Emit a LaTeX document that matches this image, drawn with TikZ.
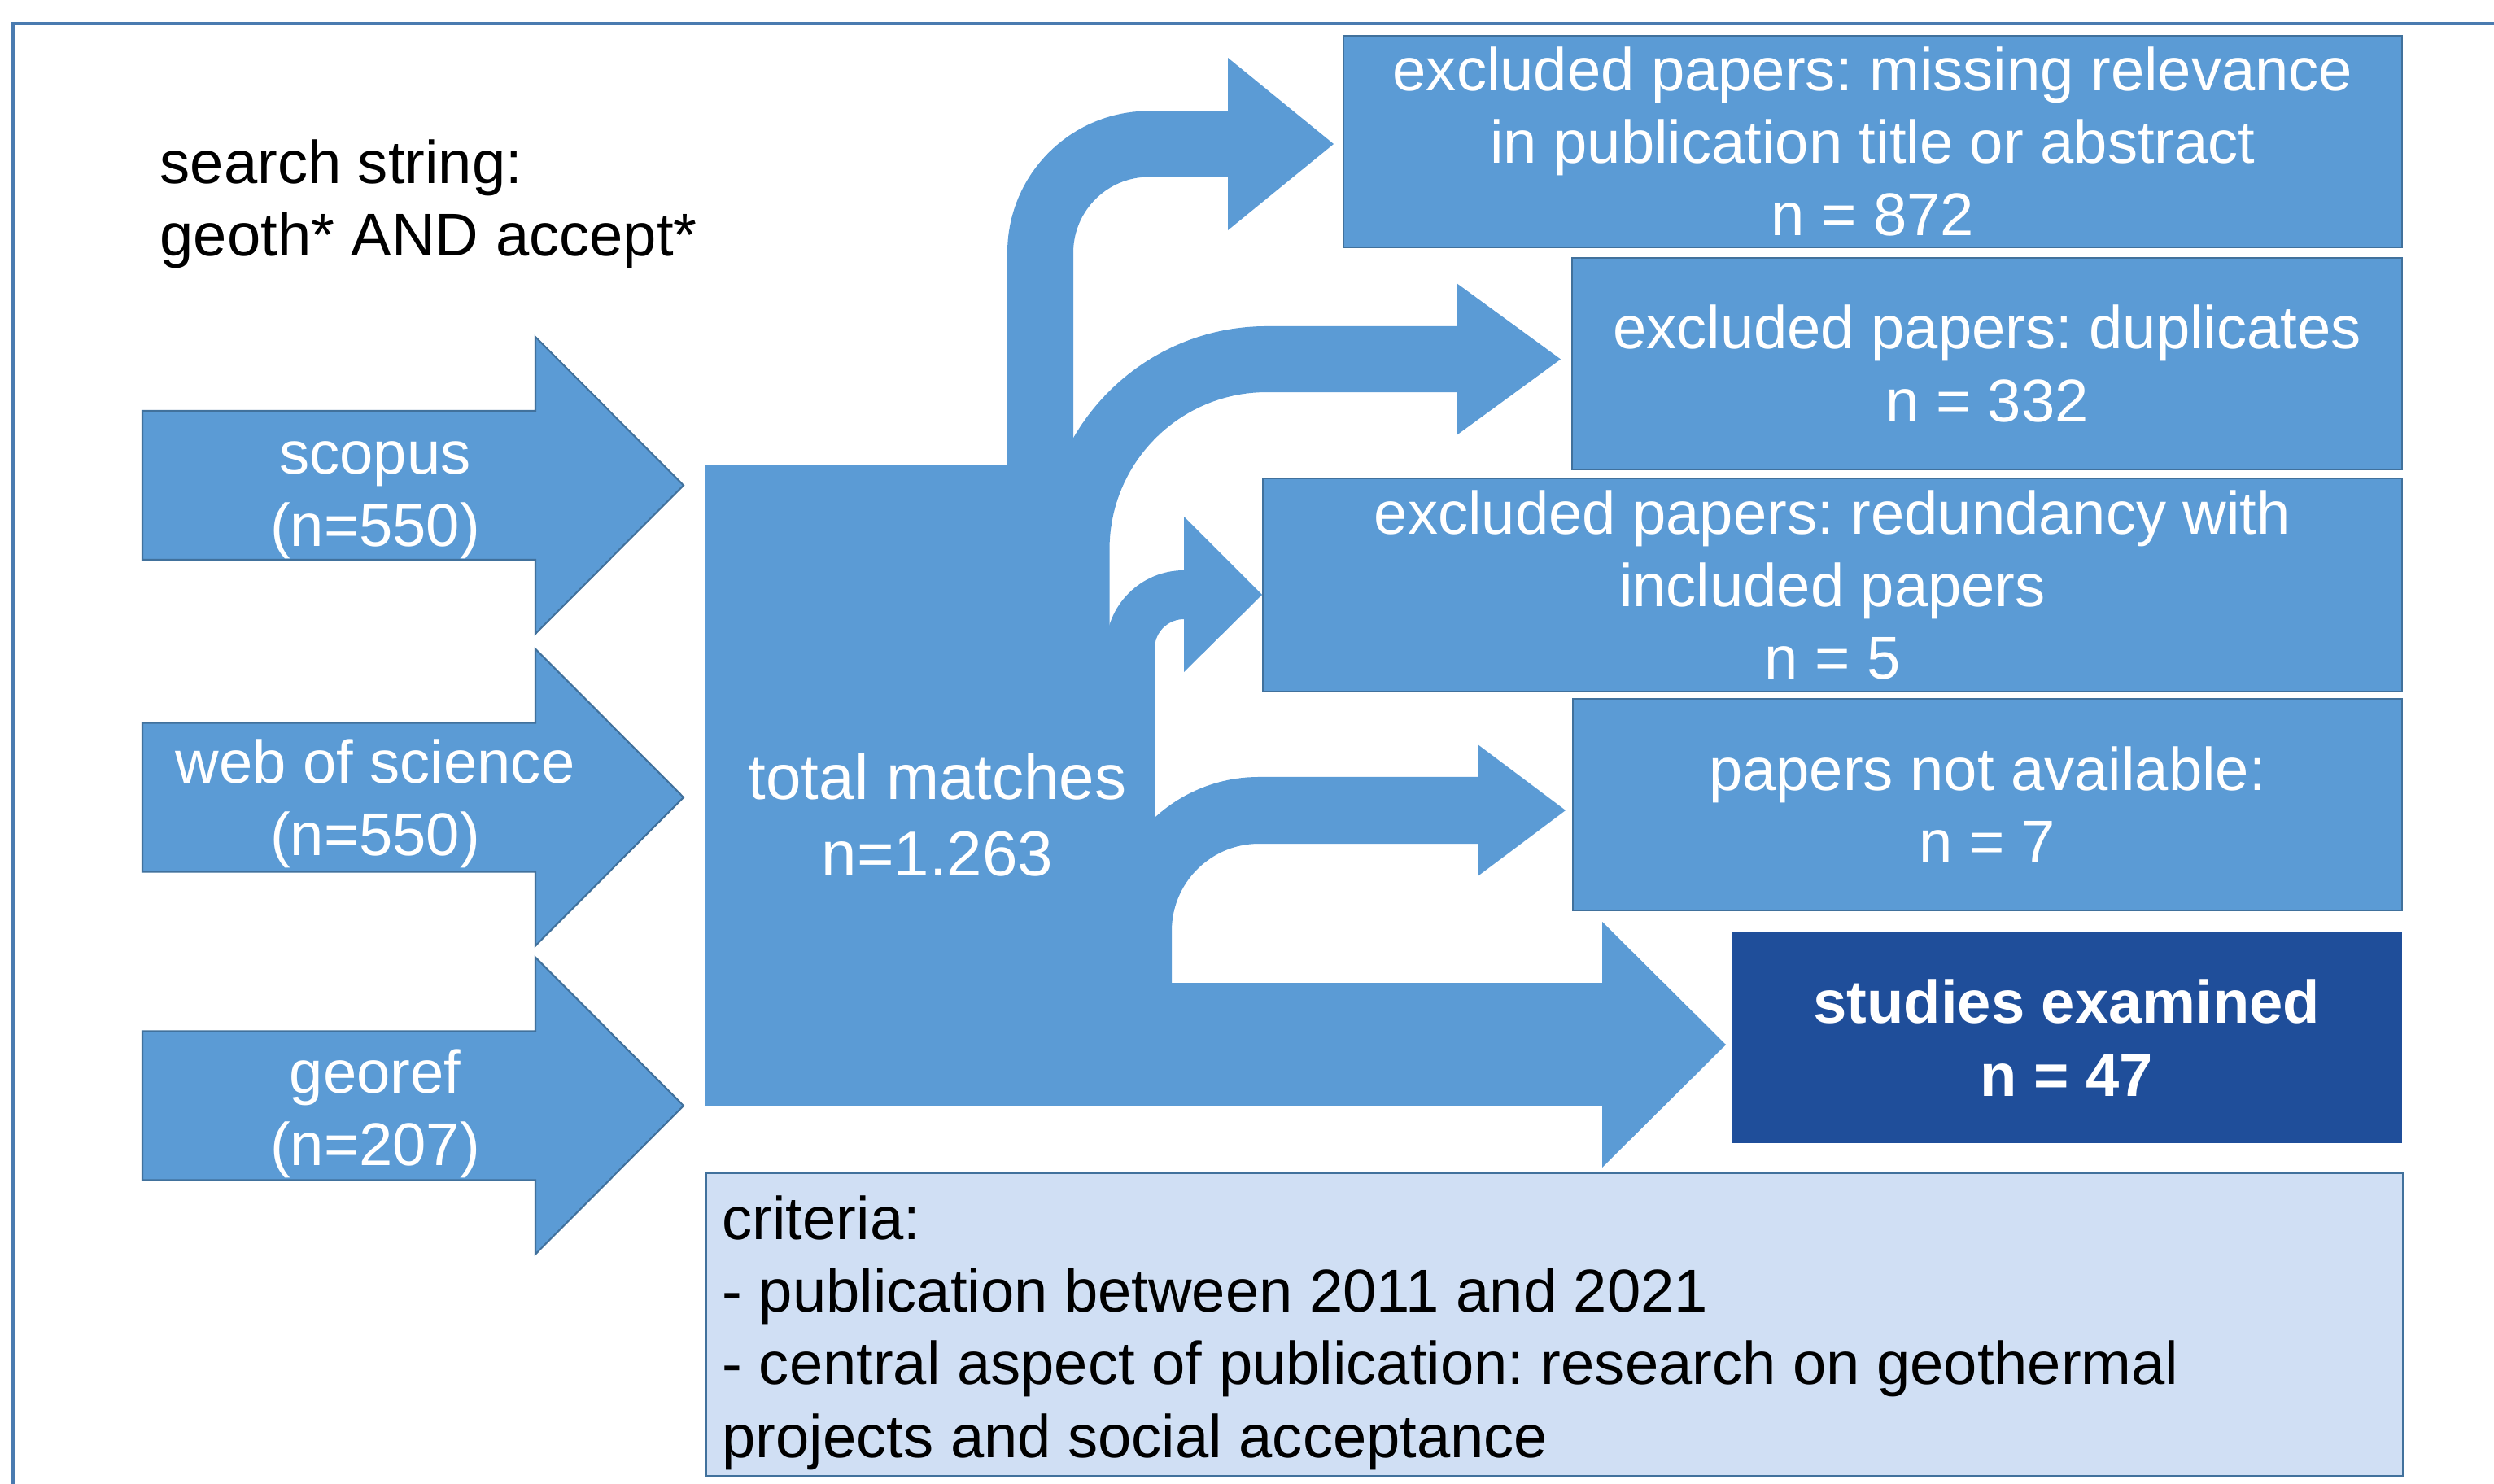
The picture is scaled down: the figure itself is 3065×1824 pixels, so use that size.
\documentclass[tikz,border=0pt]{standalone}
\usepackage{fontspec}
\setmainfont{Liberation Sans}
\frenchspacing
\definecolor{flowblue}{HTML}{5B9BD5}
\definecolor{edgeblue}{HTML}{41719C}
\definecolor{deepblue}{HTML}{1F4E9A}
\definecolor{paleblue}{HTML}{D0DFF4}
\definecolor{frameblue}{HTML}{4A7BB0}

\begin{document}
\begin{tikzpicture}[x=0.01cm, y=-0.01cm,
        every node/.style = {inner sep=0pt, font=\fontsize{21.1}{25.4}\selectfont},
        srcarrow/.style = {fill=flowblue, draw=edgeblue, line width=0.6pt},
        srctext/.style = {text=white, align=center},
        exbox/.style = {draw=edgeblue, line width=0.6pt, fill=flowblue, text=white, align=center, minimum height=2.6cm},
        flowband/.style = {draw=flowblue, line cap=butt, rounded corners=#1},
        tipfill/.style = {fill=flowblue}]

            \useasboundingbox (0,0) rectangle (3065,1824);
            \draw[frameblue, line width=0.9pt] (16,1830) -- (16,29) -- (3070,29);

            \node[anchor=west, align=left] (search) at (196,250.7) {search string:\\geoth* AND accept*};

            \foreach \c in {596.5,980,1359}
                \draw[srcarrow] (175,\c-91.5) -- (658,\c-91.5) -- (658,\c-182.5) -- (840,\c) -- (658,\c+182.5) -- (658,\c+91.5) -- (175,\c+91.5) -- cycle;

            \node[srctext] (scopus) at (461,614.5) {scopus\\(n=550)};
            \node[srctext] (wos) at (461,987.7) {web of science\\(n=550)};
            \node[srctext] (georef) at (461,1368.7) {georef\\(n=207)};

            \node[exbox, minimum width=13.01cm] (relevance) at (2301.5,174) {excluded papers: missing relevance\\in publication title or abstract\\n = 872};
            \node[exbox, minimum width=10.20cm] (duplicates) at (2442,447) {excluded papers: duplicates\\n = 332};
            \node[exbox, minimum width=14.00cm, minimum height=2.62cm] (redundancy) at (2252,719) {excluded papers: redundancy with\\included papers\\n = 5};
            \node[exbox, minimum width=10.19cm] (unavailable) at (2442.5,989) {papers not available:\\n = 7};
            \node[fill=deepblue, text=white, align=center, font=\fontsize{21.1}{25.4}\selectfont\bfseries, minimum width=8.24cm, minimum height=2.59cm] (examined) at (2540,1275.5) {studies examined\\n = 47};
            \node[draw=edgeblue, line width=0.9pt, fill=paleblue, minimum width=20.85cm, minimum height=3.72cm] (criteria) at (1910.5,1628) {};
            \node[anchor=west, align=left] (crittext) at (887,1638) {criteria:\\- publication between 2011 and 2021\\- central aspect of publication: research on geothermal\\projects and social acceptance};

            \node[fill=flowblue, minimum width=4.70cm, minimum height=7.88cm] (total) at (1102,965) {};

            \coordinate (fromA) at (1278.5,1300);
            \coordinate (toA) at (1511,177);
            \coordinate (fromB) at (1323,1300);
            \coordinate (toB) at (1792,441.5);
            \coordinate (fromC) at (1389,1300);
            \coordinate (toC) at (1457,731);
            \coordinate (fromD) at (1399,1300);
            \coordinate (toD) at (1818,996);
            \coordinate (fromE) at (1300,1284);
            \coordinate (toE) at (1971,1284);

            \draw[flowband=1.335cm, line width=0.81cm] (fromA) |- (toA);
            \draw[flowband=2.335cm, line width=0.81cm] (fromB) |- (toB);
            \draw[flowband=0.66cm, line width=0.60cm] (fromC) |- (toC);
            \draw[flowband=1.48cm, line width=0.82cm] (fromD) |- (toD);
            \draw[flowband=0cm, line width=1.52cm] (fromE) -- (toE);

            \fill[tipfill] (1509,71) -- (1639,177) -- (1509,283) -- cycle;
            \fill[tipfill] (1790,348) -- (1918,441.5) -- (1790,535) -- cycle;
            \fill[tipfill] (1455,635) -- (1551,731) -- (1455,826) -- cycle;
            \fill[tipfill] (1816,915) -- (1924,996) -- (1816,1077) -- cycle;
            \fill[tipfill] (1969,1133) -- (2121,1284) -- (1969,1435) -- cycle;

            \node[text=white, align=center, font=\fontsize{22.2}{26.7}\selectfont] (matches) at (1152,1001.5) {total matches\\n=1.263};

\end{tikzpicture}
\end{document}
